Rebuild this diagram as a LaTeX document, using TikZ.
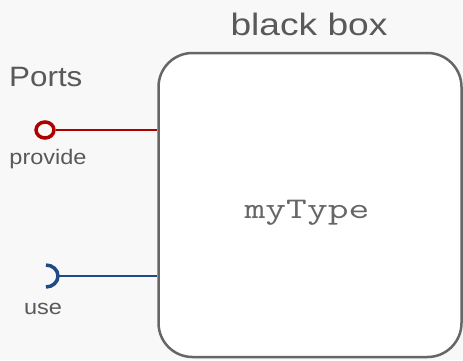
\documentclass[tikz,border=0pt]{standalone}
\usepackage{fontspec}
\setmainfont{Liberation Sans}
\definecolor{bgcol}{HTML}{F8F8F8}
\definecolor{boxline}{HTML}{666666}
\definecolor{txtcol}{HTML}{595959}
\definecolor{provred}{HTML}{AE0000}
\definecolor{useblue}{HTML}{1F4A85}
\begin{document}
\begin{tikzpicture}[x=1pt, y=1pt,
        lbl/.style={text=txtcol, inner sep=0pt, xscale=1.12},
        blackbox/.style={draw=boxline, fill=white, line width=2.5pt,
            rounded corners=34pt, minimum width=303pt, minimum height=304pt}]
    \fill[bgcol] (0,0) rectangle (463,360);
    \useasboundingbox (0,0) rectangle (463,360);

    % the component
    \node[blackbox] (box) at (310,155) {};
    \node[lbl, anchor=base, font=\fontsize{31}{31}\selectfont, xscale=1.07] (title) at (309,324.5) {black box};
    \node[lbl, anchor=base, font=\fontsize{30}{30}\ttfamily, text=boxline, xscale=1.2] (type) at (307,142) {myType};

    % ports
    \node[lbl, anchor=base west, font=\fontsize{28}{28}\selectfont] (ports) at (9,273.5) {Ports};
    \node[circle, draw=provred, line width=3.5pt, minimum size=16pt, inner sep=0pt, xscale=1.12] (prov) at (45,230) {};
    \node[lbl, anchor=base, font=\fontsize{21}{21}\selectfont] (provlbl) at (48,195.5) {provide};
    \draw[provred, line width=2.6pt] (prov.east) -- (prov.east -| box.west);

    \draw[useblue, line width=3.5pt] (46,95) arc[start angle=90, end angle=-90, x radius=12, y radius=11];
    \coordinate (usetip) at (58,84);
    \node[lbl, anchor=base, font=\fontsize{21}{21}\selectfont] (uselbl) at (43,46) {use};
    \draw[useblue, line width=2.6pt] (usetip) -- (usetip -| box.west);
\end{tikzpicture}
\end{document}
